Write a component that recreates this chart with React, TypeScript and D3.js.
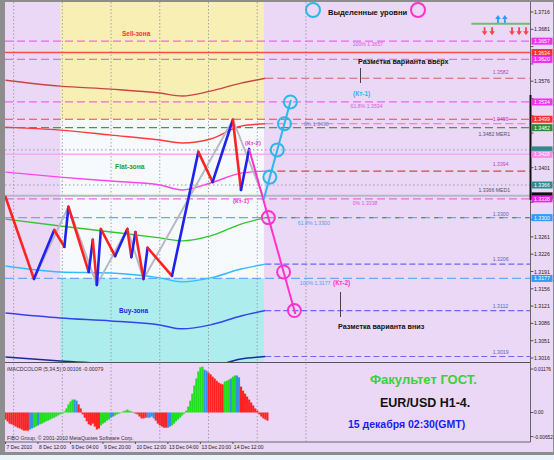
import React from 'react';
import * as d3 from 'd3';

// ---------- data ----------
// main zigzag of the EUR/USD H1 price (bar index, price)
const zigBars = [0, 14, 24, 29, 31, 41, 43, 45, 47, 54, 60, 62, 64, 68, 70, 82, 95, 102, 112, 116, 120];
const zigPrices = [1.3342, 1.3176, 1.3275, 1.3241, 1.3322, 1.319, 1.3255, 1.3164, 1.3277, 1.3222, 1.3277, 1.322, 1.3271, 1.3176, 1.3239, 1.3182, 1.3433, 1.3372, 1.3498, 1.3356, 1.3439];

// higher-order swing line
const swingBars = [14, 31, 45, 60, 68, 112, 127];
const swingPrices = [1.3176, 1.3322, 1.3164, 1.3277, 1.3176, 1.3498, 1.3342];

// envelope / moving-average bands
const maBars = [0, 27, 52, 76, 87, 101, 116, 128];
const maTop = [1.3578, 1.3566, 1.356, 1.3552, 1.3546, 1.3556, 1.3572, 1.3582];
const maUpper = [1.3483, 1.3477, 1.3467, 1.3457, 1.3451, 1.3459, 1.3485, 1.349];
const maMid = [1.3392, 1.3382, 1.3374, 1.3366, 1.3356, 1.337, 1.339, 1.3394];
const maLowerMid = [1.3297, 1.3283, 1.3271, 1.3259, 1.3253, 1.3263, 1.3287, 1.33];
const maLower = [1.3202, 1.319, 1.3188, 1.3178, 1.317, 1.3178, 1.3196, 1.3206];
const maLow2 = [1.3107, 1.3097, 1.3091, 1.3083, 1.3075, 1.3083, 1.3101, 1.3112];
const maBottom = [1.3018, 1.301, 1.3004, 1.2996, 1.299, 1.2998, 1.3014, 1.3019];

// horizontal levels
const levelPrices = [1.3657, 1.3634, 1.362, 1.3582, 1.3534, 1.3499, 1.349, 1.3482, 1.3437, 1.3428, 1.3394, 1.3366, 1.3344, 1.3338, 1.33, 1.33, 1.3206, 1.3177, 1.3112, 1.3019];
const levelKinds = ['mag', 'redSolid', 'mag', 'brown', 'mag', 'red', 'pink', 'green', 'grayDot', 'pinkSolid', 'brownRed', 'grayDot', 'bid', 'mag', 'sky', 'greenDash', 'blue', 'sky', 'blue', 'blue'];
const levelFromBar = [0, 0, 0, 128, 0, 0, 128, 0, 0, 0, 128, 0, 0, 0, 0, 128, 128, 0, 128, 128];

// level captions
const capTexts = ['100% 1.3657', '1.3582', '61.8% 1.3534', '1.3499', '0% 1.3490', '1.3482 MER1', '1.3394', '1.3366 MED1', '0% 1.3338', '1.3300', '61.8% 1.3300', '1.3206', '100% 1.3177', '1.3112', '1.3019'];
const capPrices = [1.3657, 1.3582, 1.3534, 1.3499, 1.349, 1.3482, 1.3394, 1.3366, 1.3338, 1.33, 1.33, 1.3206, 1.3177, 1.3112, 1.3019];
const capBars = [171, 240, 170, 240, 147, 233, 240, 233, 171, 240, 144, 240, 145, 240, 240];
const capColors = ['#e055e0', '#c040c0', '#e055e0', '#c040c0', '#6a7fd0', '#555566', '#c040c0', '#555566', '#e055e0', '#5566cc', '#55a0ee', '#5566cc', '#55a0ee', '#5566cc', '#5566cc'];
const capDy = [5, -4, 6, 2, 2, 8, -5, 7, 6, -2, 7, -3, 7, -3, -3];

// projections with marked target levels
const upProjBars = [127.3, 140.6];
const upProjPrices = [1.3338, 1.3538];
const upTargets = [1.3534, 1.349, 1.3437, 1.3382];
const downProjBars = [120, 142.8];
const downProjPrices = [1.3439, 1.3105];
const downTargets = [1.33, 1.319, 1.3112];

// price axis
const priceTicks = [1.3716, 1.3681, 1.3646, 1.3611, 1.3576, 1.3541, 1.3506, 1.3471, 1.3436, 1.3401, 1.3366, 1.3331, 1.3296, 1.3261, 1.3226, 1.3191, 1.3156, 1.3121, 1.3086, 1.3051, 1.3016];
const axisBoxPrices = [1.3657, 1.3634, 1.362, 1.3534, 1.3499, 1.3482, 1.3437, 1.3428, 1.3366, 1.3344, 1.3338, 1.33, 1.3177];
const axisBoxColors = ['#ee33ee', '#ff3030', '#ee33ee', '#ee33ee', '#ff3030', '#2e8b3a', '#2a8c8c', '#ff88ee', '#2a8c8c', '#111111', '#ee22ee', '#3399ff', '#3399ff'];

// signal arrows (top right)
const upArrowBars = [242.6, 246];
const downArrowBars = [236, 239.7, 249.5, 253, 256.4];

// time axis
const timeLabels = ['7 Dec 2010', '8 Dec 12:00', '9 Dec 04:00', '9 Dec 20:00', '10 Dec 12:00', '13 Dec 04:00', '13 Dec 20:00', '14 Dec 12:00'];
const timeBars = [0, 16, 32, 48, 64, 80, 96, 112];
const dayBars = [4, 28, 52, 76, 100, 124, 148];

// MACD histogram (bar 0..129) and colour state
const macdValues = [
  -0.0019, -0.0024, -0.003, -0.0032, -0.0035, -0.0038, -0.0041, -0.0043, -0.0046, -0.0049,
  -0.0049, -0.0049, -0.0046, -0.0043, -0.0041, -0.0038, -0.0035, -0.0032, -0.003, -0.0027,
  -0.0024, -0.0022, -0.0019, -0.0016, -0.0014, -0.0011, -0.0008, -0.0005, -0.0003, 0.0003,
  0.0011, 0.0022, 0.003, 0.0035, 0.0035, 0.0032, 0.0022, 0.0011, -0.0005, -0.0014,
  -0.0024, -0.0032, -0.0035, -0.003, -0.0038, -0.0046, -0.0043, -0.0035, -0.003, -0.0027,
  -0.0022, -0.0019, -0.0014, -0.0011, -0.0008, -0.0005, -0.0003, 0.0001, 0.0003, 0.0005,
  0.0008, 0.0005, 0.0003, 0.0001, -0.0003, -0.0005, -0.0011, -0.0016, -0.0016, -0.0014,
  -0.0014, -0.0014, -0.0011, -0.0016, -0.0022, -0.003, -0.0035, -0.0038, -0.0041, -0.0041,
  -0.0041, -0.0038, -0.0035, -0.003, -0.0024, -0.0019, -0.0014, -0.0008, -0.0003, 0.0005,
  0.0016, 0.0032, 0.0051, 0.0073, 0.0092, 0.0111, 0.0122, 0.0124, 0.0116, 0.0113,
  0.0108, 0.0103, 0.0097, 0.0092, 0.0086, 0.0081, 0.0078, 0.0076, 0.0084, 0.0086,
  0.0089, 0.0092, 0.0097, 0.01, 0.01, 0.0095, 0.007, 0.0059, 0.0051, 0.0043,
  0.0035, 0.0027, 0.0019, 0.0011, 0.0005, -0.0005, -0.0011, -0.0016, -0.0019, -0.0022,
];
const macdStates = [
  'r', 'r', 'r', 'r', 'r', 'r', 'r', 'r', 'r', 'r',
  'r', 'r', 'b', 'b', 'g', 'g', 'b', 'g', 'g', 'g',
  'g', 'g', 'g', 'g', 'g', 'g', 'g', 'g', 'g', 'g',
  'g', 'g', 'g', 'g', 'b', 'b', 'r', 'r', 'r', 'r',
  'r', 'r', 'r', 'r', 'r', 'r', 'r', 'g', 'g', 'g',
  'g', 'g', 'b', 'b', 'g', 'g', 'g', 'g', 'g', 'g',
  'g', 'g', 'g', 'r', 'r', 'r', 'r', 'r', 'r', 'r',
  'b', 'b', 'b', 'b', 'r', 'r', 'r', 'r', 'r', 'r',
  'b', 'b', 'g', 'g', 'g', 'g', 'g', 'g', 'g', 'g',
  'g', 'g', 'g', 'g', 'g', 'g', 'g', 'g', 'b', 'b',
  'r', 'r', 'r', 'r', 'r', 'r', 'r', 'r', 'g', 'g',
  'g', 'b', 'g', 'g', 'b', 'b', 'r', 'r', 'r', 'r',
  'r', 'r', 'r', 'r', 'r', 'r', 'r', 'r', 'r', 'r',
];
const macdTickLabels = ['0.01176', '0.00', '-0.00652'];
const macdTickValues = [0.01176, 0, -0.00652];

// ---------- styling ----------
const FONT = 'Liberation Sans, Arial, sans-serif';
const LAV = '#ebd7f6';
const levelStyle: Record<string, { c: string; w: number; d?: string }> = {
  mag: { c: '#ee66ee', w: 1.2, d: '8,4' },
  redSolid: { c: '#ff4a4a', w: 1.5 },
  brown: { c: '#d06060', w: 1.2, d: '8,4' },
  red: { c: '#ff4040', w: 1.2, d: '8,4' },
  pink: { c: '#e08ad0', w: 1.2, d: '8,4' },
  green: { c: '#4a9a4a', w: 1.2, d: '8,4' },
  grayDot: { c: '#9a9aaa', w: 1, d: '1.5,2.5' },
  pinkSolid: { c: '#f6aaf2', w: 1.5 },
  brownRed: { c: '#d04848', w: 1.2, d: '8,4' },
  bid: { c: '#b8b8c4', w: 2 },
  sky: { c: '#66aaff', w: 1.2, d: '9,4' },
  greenDash: { c: '#4a9a4a', w: 1.2, d: '4,9' },
  blue: { c: '#6868ff', w: 1.2, d: '6,3' },
};
const macdColor: Record<string, string> = { r: '#ff2222', g: '#22dd22', b: '#3a8ee6' };

export default function App() {
  const L = 5, R = 530.5, T = 2, MB = 362.5, MT = 363.5, MBot = 442;
  const x = d3.scaleLinear().domain([0, 100]).range([5.5, 208.5]);
  const y = d3.scaleLinear().domain([1.3716, 1.3016]).range([12, 358]);
  const ym = d3.scaleLinear().domain([-0.00652, 0.01176]).range([436.6, 369]);
  const barW = x(1) - x(0);

  const curve = d3.line<[number, number]>().x(d => x(d[0])).y(d => y(d[1])).curve(d3.curveMonotoneX);
  const straight = d3.line<[number, number]>().x(d => x(d[0])).y(d => y(d[1]));
  const pairs = (bs: number[], ps: number[]) => bs.map((b, i) => [b, ps[i]] as [number, number]);

  const zoneL = x(27), zoneR = x(127.3);
  const interpBar = (bs: number[], ps: number[], p: number) => bs[0] + ((p - ps[0]) / (ps[1] - ps[0])) * (bs[1] - bs[0]);

  // axis price labels covered by a coloured marker are not printed
  const boxYs = axisBoxPrices.map(p => y(p));
  const visibleTicks = priceTicks.filter(p => boxYs.every(by => Math.abs(by - y(p)) > 6.5));
  // a marker partly hidden by the next one keeps its box but not its caption
  const boxHasText = boxYs.map((by, i) => i === boxYs.length - 1 || Math.abs(boxYs[i + 1] - by) > 6.5);

  const maList: [number[], string, number][] = [
    [maTop, '#c84545', 1.4],
    [maUpper, '#ff3a3a', 1.4],
    [maMid, '#ff44ee', 1.4],
    [maLowerMid, '#33c633', 1.4],
    [maLower, '#33bbff', 1.4],
    [maLow2, '#3344ee', 1.5],
    [maBottom, '#1a2a99', 1.5],
  ];

  const boldT = (t: string, px: number, py: number, size: number, fill: string) => (
    <text x={px} y={py} fontFamily={FONT} fontWeight="bold" fontSize={size} fill={fill}>{t}</text>
  );

  return (
    <svg width={554} height={460} style={{ position: 'absolute', left: 0, top: 0, display: 'block' }}>
      <defs>
        <clipPath id="mainClip"><rect x={L} y={T} width={R - L} height={MB - T} /></clipPath>
        <clipPath id="macdClip"><rect x={L} y={MT} width={R - L} height={MBot - MT} /></clipPath>
      </defs>
      <rect x={0} y={0} width={554} height={460} fill="#e9f4fb" />
      <rect x={0} y={0} width={554} height={455} fill="#8d8d8d" />
      <rect x={L} y={T} width={548} height={450} fill={LAV} />

      {/* zones */}
      <g clipPath="url(#mainClip)">
        <rect x={zoneL} y={T} width={zoneR - zoneL} height={y(1.3499) - T} fill="#f7efb4" />
        <rect x={zoneL} y={y(1.3499)} width={zoneR - zoneL} height={y(1.3177) - y(1.3499)} fill="#f6fafd" />
        <rect x={zoneL} y={y(1.3177)} width={zoneR - zoneL} height={MB - y(1.3177)} fill="#aeeded" />

        {/* day separators */}
        {dayBars.map((b, i) => (
          <line key={i} x1={x(b)} x2={x(b)} y1={T} y2={MB} stroke="#8f8f9a" strokeWidth={0.8} strokeDasharray="1.5,2" />
        ))}

        {/* levels */}
        {levelPrices.map((p, i) => {
          const s = levelStyle[levelKinds[i]];
          return (
            <line key={i} x1={levelFromBar[i] === 0 ? L : x(levelFromBar[i])} x2={R} y1={y(p)} y2={y(p)}
              stroke={s.c} strokeWidth={s.w} strokeDasharray={s.d} />
          );
        })}

        {/* bands */}
        {maList.map(([ps, c, w], i) => (
          <path key={i} d={curve(pairs(maBars, ps)) || ''} fill="none" stroke={c} strokeWidth={w} />
        ))}

        {/* swing line */}
        <path d={straight(pairs(swingBars, swingPrices)) || ''} fill="none" stroke="#b9b9c6" strokeWidth={2} />

        {/* zigzag */}
        {zigBars.slice(1).map((b, i) => {
          const up = zigPrices[i + 1] > zigPrices[i];
          return (
            <line key={i} x1={x(zigBars[i])} y1={y(zigPrices[i])} x2={x(b)} y2={y(zigPrices[i + 1])}
              stroke={up ? '#2222ee' : '#ff2222'} strokeWidth={2.6} strokeLinecap="round" />
          );
        })}

        {/* projections */}
        <path d={straight(pairs(downProjBars, downProjPrices)) || ''} stroke="#ff33cc" strokeWidth={2} fill="none" />
        <path d={straight(pairs(upProjBars, upProjPrices)) || ''} stroke="#2bb8ea" strokeWidth={2} fill="none" />
        {upTargets.map((p, i) => (
          <circle key={i} cx={x(interpBar(upProjBars, upProjPrices, p))} cy={y(p)} r={6.5} fill="none" stroke="#2bb8ea" strokeWidth={2} />
        ))}
        {downTargets.map((p, i) => (
          <circle key={i} cx={x(interpBar(downProjBars, downProjPrices, p))} cy={y(p)} r={6.5} fill="none" stroke="#ff33cc" strokeWidth={2} />
        ))}

        {/* level captions */}
        {capTexts.map((t, i) => (
          <text key={i} x={x(capBars[i])} y={y(capPrices[i]) + capDy[i]} fontFamily={FONT} fontSize={5.2} fill={capColors[i]}>{t}</text>
        ))}

        {/* signal arrows */}
        <line x1={x(229.5)} x2={R} y1={y(1.3692)} y2={y(1.3692)} stroke="#6cbf6c" strokeWidth={2} />
        {upArrowBars.map((b, i) => (
          <g key={i} transform={`translate(${x(b)},${y(1.3702)})`}>
            <path d="M0,-4 L-2.8,0 L-0.9,0 L-0.9,4 L0.9,4 L0.9,0 L2.8,0 Z" fill="#3399ff" />
          </g>
        ))}
        {downArrowBars.map((b, i) => (
          <g key={i} transform={`translate(${x(b)},${y(1.3677)})`}>
            <path d="M0,4 L-2.8,0 L-0.9,0 L-0.9,-4 L0.9,-4 L0.9,0 L2.8,0 Z" fill="#ff4444" />
          </g>
        ))}
      </g>

      {/* zone titles and annotations */}
      {boldT('Sell-зона', 122, 36, 6.5, '#ff3333')}
      {boldT('Flat-зона', 115, 169, 6.8, '#2e9a2e')}
      {boldT('Buy-зона', 119, 313, 6.5, '#2222dd')}
      {boldT('(Кт-2)', 245, 145, 6, '#ff33cc')}
      {boldT('(Кт-1)', 233, 203, 6, '#ff33cc')}
      {boldT('(Кт-1)', 353, 96, 6.5, '#2bb8ea')}
      {boldT('(Кт-2)', 333, 285, 6.5, '#ff33cc')}

      {/* legend */}
      <circle cx={313} cy={10} r={7} fill="none" stroke="#2bb8ea" strokeWidth={2} />
      <circle cx={418} cy={10} r={7} fill="none" stroke="#ff33cc" strokeWidth={2} />
      {boldT('Выделенные уровни', 328, 15, 7.6, '#111')}
      {boldT('Разметка варианта вверх', 358, 64, 7.2, '#111')}
      <line x1={360.5} x2={360.5} y1={68} y2={83} stroke="#444" strokeWidth={1} />
      {boldT('Разметка варианта вниз', 338, 329, 7.2, '#111')}
      <line x1={340.5} x2={340.5} y1={292} y2={317} stroke="#444" strokeWidth={1} />

      {/* panel borders */}
      <line x1={L} x2={R} y1={MB} y2={MB} stroke="#555" strokeWidth={1} />
      <line x1={R} x2={R} y1={T} y2={MBot} stroke="#666" strokeWidth={1} />
      <line x1={R} x2={R} y1={95} y2={200} stroke="#111" strokeWidth={2} />
      <line x1={L} x2={R} y1={MBot} y2={MBot} stroke="#666" strokeWidth={1} />

      {/* price axis */}
      {priceTicks.map((p, i) => (
        <line key={i} x1={R} x2={R + 3} y1={y(p)} y2={y(p)} stroke="#333" strokeWidth={0.8} />
      ))}
      {visibleTicks.map((p, i) => (
        <text key={i} x={534} y={y(p) + 2} fontFamily={FONT} fontSize={5.2} fill="#222">{p.toFixed(4)}</text>
      ))}
      {axisBoxPrices.map((p, i) => (
        <g key={i}>
          <rect x={531.5} y={y(p) - 3.5} width={21} height={7} fill={axisBoxColors[i]} />
          {boxHasText[i] && (
            <text x={534} y={y(p) + 2} fontFamily={FONT} fontSize={5.2} fill="#fff">{p.toFixed(4)}</text>
          )}
        </g>
      ))}

      {/* MACD panel */}
      <g clipPath="url(#macdClip)">
        {dayBars.map((b, i) => (
          <line key={i} x1={x(b)} x2={x(b)} y1={MT} y2={MBot} stroke="#8f8f9a" strokeWidth={0.8} strokeDasharray="1.5,2" />
        ))}
        {macdValues.map((v, i) => (
          <rect key={i} x={x(i) - barW / 2} width={barW + 0.1}
            y={Math.min(ym(v), ym(0))} height={Math.abs(ym(v) - ym(0))}
            fill={macdColor[macdStates[i]]} />
        ))}
      </g>
      <text x={7} y={371} fontFamily={FONT} fontSize={5.2} fill="#333">iMACDCOLOR (5,34,5) 0.00106 -0.00079</text>
      <text x={7} y={440} fontFamily={FONT} fontSize={5.2} fill="#333">FIBO Group, © 2001-2010 MetaQuotes Software Corp.</text>
      {macdTickValues.map((v, i) => (
        <g key={i}>
          <line x1={R} x2={R + 3} y1={ym(v)} y2={ym(v)} stroke="#333" strokeWidth={0.8} />
          <text x={534} y={ym(v) + 2} fontFamily={FONT} fontSize={4.8} fill="#222">{macdTickLabels[i]}</text>
        </g>
      ))}

      {/* caption */}
      {boldT('Факультет ГОСТ.', 370, 384, 13, '#3ccf3c')}
      {boldT('EUR/USD H1-4.', 380, 407, 12.5, '#111')}
      {boldT('15  декабря 02:30(GMT)', 348, 428, 10.5, '#1a1aff')}

      {/* time axis */}
      {timeBars.map((b, i) => (
        <g key={i}>
          <line x1={x(b)} x2={x(b)} y1={MBot} y2={MBot + 2} stroke="#333" strokeWidth={0.8} />
          <text x={x(b) + 1} y={449} fontFamily={FONT} fontSize={5} fill="#222">{timeLabels[i]}</text>
        </g>
      ))}
    </svg>
  );
}
